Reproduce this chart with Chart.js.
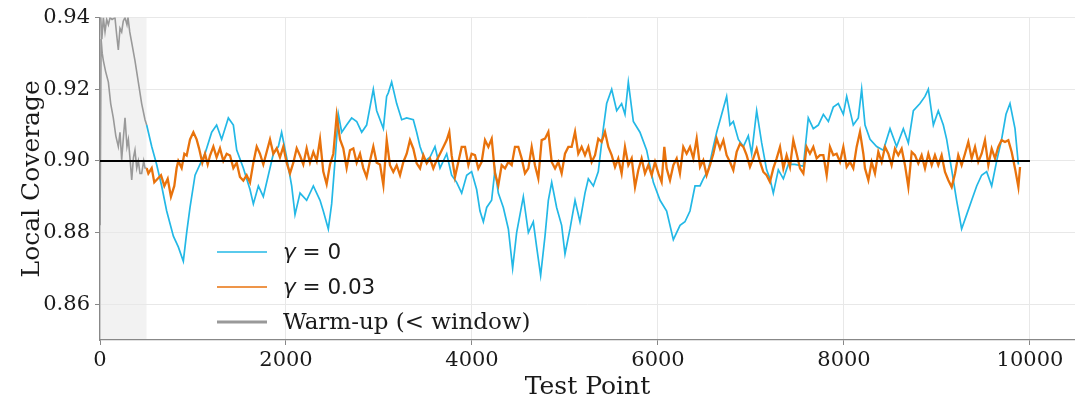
<!DOCTYPE html>
<html>
<head>
<meta charset="utf-8">
<script src="https://cdn.jsdelivr.net/npm/chart.js@4.4.1/dist/chart.umd.min.js"></script>
<style>
html,body{margin:0;padding:0;background:#fff;}
#wrap{width:1075px;height:403px;}
</style>
</head>
<body>
<div id="wrap"><canvas id="c" width="1075" height="403"></canvas></div>
<script>
// ---- data ----
const xTicks = [0, 2000, 4000, 6000, 8000, 10000];
const yTicks = [0.86, 0.88, 0.90, 0.92, 0.94];
const targetCoverage = 0.90;
const targetEnd = 10000;
const warmupEnd = 500;

// gamma = 0 (cyan)
const g0T = [502,556,609,663,717,789,842,896,932,968,1022,1075,1129,1201,1254,1308,1380,1434,1470,1541,1613,1649,1703,1756,1810,1864,1918,1953,2007,2061,2097,2151,2222,2294,2366,2401,2455,2491,2527,2563,2599,2652,2706,2760,2814,2867,2939,2975,3047,3082,3100,3136,3190,3244,3297,3369,3405,3441,3495,3548,3602,3656,3728,3781,3835,3889,3943,3996,4050,4086,4122,4158,4211,4247,4283,4337,4391,4437,4480,4552,4606,4659,4695,4738,4785,4821,4857,4910,4964,5000,5054,5108,5161,5215,5251,5305,5358,5412,5448,5502,5556,5609,5645,5681,5735,5806,5878,5950,6022,6093,6165,6237,6290,6344,6398,6452,6487,6541,6595,6631,6685,6738,6774,6810,6864,6918,6971,7007,7061,7115,7168,7204,7240,7294,7348,7401,7473,7563,7616,7670,7724,7778,7832,7885,7939,7993,8029,8100,8154,8190,8226,8280,8351,8423,8495,8566,8638,8692,8746,8817,8871,8907,8961,9014,9068,9104,9158,9211,9265,9319,9373,9427,9480,9534,9588,9642,9695,9742,9785,9839,9875];
const g0V = [0.910,0.904,0.899,0.893,0.886,0.879,0.876,0.872,0.880,0.887,0.896,0.899,0.902,0.908,0.910,0.906,0.912,0.910,0.903,0.898,0.892,0.888,0.893,0.890,0.896,0.902,0.904,0.908,0.901,0.893,0.885,0.891,0.889,0.893,0.889,0.886,0.881,0.888,0.900,0.913,0.908,0.910,0.912,0.911,0.908,0.910,0.920,0.914,0.909,0.918,0.919,0.922,0.916,0.9115,0.912,0.9115,0.908,0.904,0.900,0.901,0.904,0.898,0.902,0.896,0.894,0.891,0.896,0.897,0.892,0.886,0.883,0.887,0.889,0.8975,0.891,0.887,0.881,0.870,0.880,0.890,0.880,0.883,0.876,0.868,0.879,0.889,0.894,0.887,0.882,0.874,0.881,0.889,0.883,0.891,0.895,0.893,0.897,0.909,0.916,0.920,0.914,0.916,0.913,0.922,0.911,0.908,0.903,0.894,0.889,0.886,0.878,0.882,0.883,0.886,0.893,0.893,0.895,0.8975,0.904,0.908,0.913,0.918,0.910,0.911,0.906,0.904,0.907,0.902,0.914,0.905,0.8975,0.895,0.891,0.8975,0.895,0.899,0.899,0.8985,0.912,0.909,0.910,0.913,0.911,0.915,0.916,0.913,0.918,0.910,0.912,0.920,0.910,0.906,0.904,0.903,0.909,0.904,0.909,0.905,0.914,0.916,0.918,0.920,0.910,0.914,0.910,0.906,0.8975,0.889,0.881,0.885,0.889,0.893,0.896,0.897,0.893,0.900,0.906,0.913,0.916,0.909,0.899];

// gamma = 0.03 (orange)
const g03T = [502,520,556,584,620,656,692,728,763,799,824,842,878,907,932,968,1004,1039,1065,1100,1129,1158,1183,1219,1254,1290,1326,1362,1398,1434,1470,1505,1541,1577,1613,1649,1685,1720,1756,1792,1828,1864,1900,1935,1971,2007,2043,2079,2115,2150,2186,2222,2258,2294,2330,2366,2401,2437,2473,2509,2545,2581,2616,2652,2688,2724,2760,2796,2831,2867,2903,2939,2975,3011,
  3047,3083,3118,3154,3190,3226,3262,3298,3333,3369,3405,3441,3477,3513,3548,3584,3620,3656,3692,3728,3756,3781,3817,3853,3889,3925,3961,3996,4032,4068,4104,4140,4176,4212,4247,4283,4319,4355,4391,4427,4462,4498,4534,4570,4606,4642,4677,4713,4749,4785,4821,4857,4893,4928,4964,5000,5036,5072,5108,5143,5179,5215,5251,5287,5323,5358,5394,5430,5466,5502,5538,
  5573,5609,5645,5681,5717,5753,5788,5824,5860,5896,5932,5968,6004,6039,6068,6093,6129,6165,6201,6236,6272,6308,6344,6380,6416,6452,6487,6523,6559,6595,6631,6667,6703,6738,6774,6810,6846,6882,6918,6953,6989,7025,7061,7097,7133,7168,7204,7240,7276,7312,7348,7383,7419,7455,7491,7527,7563,7598,7634,7670,7706,7742,7778,7814,7849,7885,7921,7957,7993,8029,
  8065,8100,8136,8172,8208,8226,8262,8297,8333,8369,8405,8441,8477,8512,8548,8584,8620,8656,8692,8728,8763,8799,8835,8871,8907,8943,8978,9014,9050,9086,9122,9158,9194,9229,9265,9301,9337,9373,9409,9444,9480,9516,9552,9588,9624,9659,9695,9731,9767,9803,9839,9875,9893];
const g03V = [0.898,0.8965,0.898,0.894,0.895,0.896,0.893,0.895,0.890,0.893,0.898,0.900,0.898,0.902,0.9015,0.906,0.908,0.906,0.9035,0.8995,0.902,0.899,0.9015,0.904,0.901,0.9035,0.900,0.902,0.9015,0.898,0.8995,0.8955,0.8945,0.896,0.894,0.8995,0.904,0.902,0.899,0.9025,0.906,0.902,0.9035,0.901,0.904,0.8995,0.8965,0.8995,0.9035,0.9015,0.899,0.9035,0.8995,0.9025,0.900,0.906,0.897,0.8935,0.899,0.902,0.9127,0.906,0.9035,0.898,0.903,0.9035,0.8995,0.902,0.898,0.8955,0.900,0.904,0.8995,0.899,
  0.8932,0.9058,0.8988,0.8969,0.8988,0.8960,0.8997,0.9020,0.9058,0.9034,0.8993,0.8979,0.9016,0.8993,0.9007,0.8979,0.9002,0.9020,0.9039,0.9058,0.9081,0.9016,0.8955,0.8997,0.9039,0.9039,0.8988,0.9020,0.9016,0.8979,0.8997,0.9058,0.9039,0.9062,0.8965,0.8932,0.8988,0.8979,0.8997,0.8988,0.9039,0.9039,0.9007,0.8965,0.8979,0.9039,0.8988,0.8951,0.9058,0.9062,0.9081,0.8997,0.8979,0.8997,0.8965,0.9020,0.9039,0.9039,0.9081,0.9020,0.9039,0.9016,0.9039,0.8997,0.9016,0.9062,0.9053,0.9081,0.9039,0.9016,0.8983,
  0.9007,0.8965,0.9039,0.8988,0.9007,0.8927,0.8974,0.9007,0.8965,0.8988,0.8960,0.8997,0.8965,0.8941,0.9039,0.8979,0.8946,0.8988,0.9007,0.8965,0.9039,0.9020,0.9039,0.9007,0.9062,0.8983,0.9002,0.8960,0.8988,0.9020,0.9062,0.9034,0.9058,0.9016,0.8997,0.8974,0.9025,0.9048,0.9039,0.9016,0.8983,0.9007,0.9034,0.8997,0.8969,0.8960,0.8941,0.8979,0.9007,0.9039,0.8979,0.9016,0.8983,0.9058,0.9020,0.8979,0.8965,0.9039,0.9020,0.9039,0.9007,0.9016,0.9016,0.8960,0.9039,0.9016,0.9020,0.8997,0.9039,0.8983,
  0.8997,0.8979,0.9039,0.9081,0.9020,0.8979,0.8946,0.8997,0.8965,0.9025,0.8997,0.9039,0.9020,0.8988,0.9034,0.9016,0.9034,0.8988,0.8927,0.9025,0.9016,0.8993,0.9016,0.8979,0.9020,0.8988,0.9016,0.8988,0.9016,0.8969,0.8946,0.8927,0.8965,0.9016,0.8988,0.9020,0.9053,0.9007,0.9039,0.8997,0.9020,0.9058,0.8988,0.9034,0.9007,0.9039,0.9058,0.9053,0.9058,0.9025,0.8979,0.8927,0.8983];

// warm-up (< window), both methods
const warmAT = [1,8,20,36,54,72,90,108,130,161,180,197,215,233,250,269,290,301,320,341,376,412,448,484,502];
const warmAV = [0.950,0.940,0.934,0.940,0.936,0.9395,0.938,0.940,0.9395,0.940,0.935,0.931,0.937,0.936,0.939,0.940,0.938,0.940,0.936,0.933,0.928,0.922,0.916,0.9115,0.910];
const warmBT = [1,12,24,36,60,90,115,143,170,197,215,233,250,269,290,305,325,341,360,376,395,412,430,448,470,484,502];
const warmBV = [0.882,0.934,0.930,0.928,0.925,0.922,0.916,0.912,0.907,0.904,0.908,0.9003,0.906,0.912,0.904,0.906,0.900,0.8947,0.901,0.903,0.898,0.900,0.8965,0.8965,0.900,0.898,0.898];

// ---- build ----
const pts = (T, V) => T.map((t, i) => ({x: t, y: V[i]}));
const C_CYAN = '#23b8e6';
const C_ORANGE = '#e8720c';
const C_GRAY = '#999999';

const shadePlugin = {
  id: 'shade',
  beforeDraw(chart) {
    const {ctx, chartArea: a, scales: {x}} = chart;
    ctx.save();
    ctx.fillStyle = '#f2f2f2';
    const x0 = x.getPixelForValue(0), x1 = x.getPixelForValue(warmupEnd);
    ctx.fillRect(x0, a.top, x1 - x0, a.bottom - a.top);
    ctx.restore();
  }
};

const legendPlugin = {
  id: 'customLegend',
  afterDraw(chart) {
    const ctx = chart.ctx;
    ctx.save();
    const lx0 = 217, lx1 = 267, tx = 283;
    const rows = [
      {y: 252, color: C_CYAN, w: 1.6, parts: [['italic 21.5px "DejaVu Sans"', 'γ'], ['21.5px "DejaVu Sans"', ' = 0']]},
      {y: 287, color: C_ORANGE, w: 1.6, parts: [['italic 21.5px "DejaVu Sans"', 'γ'], ['21.5px "DejaVu Sans"', ' = 0.03']]},
      {y: 322, color: C_GRAY, w: 3, parts: [['23px "DejaVu Serif"', 'Warm-up (< window)']]}
    ];
    rows.forEach(r => {
      ctx.strokeStyle = r.color;
      ctx.lineWidth = r.w;
      ctx.beginPath();
      ctx.moveTo(lx0, r.y); ctx.lineTo(lx1, r.y);
      ctx.stroke();
      let x = tx;
      ctx.fillStyle = '#1a1a1a';
      ctx.textBaseline = 'middle';
      r.parts.forEach(([f, s]) => {
        ctx.font = f;
        ctx.fillText(s, x, r.y + 1);
        x += ctx.measureText(s).width;
      });
    });
    ctx.restore();
  }
};

new Chart(document.getElementById('c'), {
  type: 'line',
  data: {
    datasets: [
      {label: 'target', data: [{x: 0, y: targetCoverage}, {x: targetEnd, y: targetCoverage}], borderColor: '#000', borderWidth: 2, order: 0},
      {label: 'γ = 0.03', data: pts(g03T, g03V), borderColor: C_ORANGE, borderWidth: 2.3, order: 1},
      {label: 'γ = 0', data: pts(g0T, g0V), borderColor: C_CYAN, borderWidth: 1.7, order: 2},
      {label: 'Warm-up', data: pts(warmAT, warmAV), borderColor: C_GRAY, borderWidth: 1.6, order: 3},
      {label: 'Warm-up b', data: pts(warmBT, warmBV), borderColor: C_GRAY, borderWidth: 1.6, order: 3}
    ]
  },
  options: {
    responsive: false,
    animation: false,
    devicePixelRatio: 1,
    layout: {padding: {top: 17, right: 0, left: 0, bottom: 0}},
    elements: {point: {radius: 0}, line: {tension: 0, fill: false}},
    plugins: {legend: {display: false}, tooltip: {enabled: false}},
    scales: {
      x: {
        type: 'linear', min: 0, max: 10484,
        afterBuildTicks: s => { s.ticks = xTicks.map(v => ({value: v})); },
        afterFit: s => { s.height = 63; },
        ticks: {color: '#1a1a1a', font: {family: '"DejaVu Serif"', size: 21}, padding: 3, maxRotation: 0, callback: v => String(v)},
        grid: {color: '#e8e8e8', lineWidth: 1, tickColor: '#888', tickLength: 5},
        border: {color: '#888', width: 1.3},
        title: {display: true, text: 'Test Point', color: '#1a1a1a', font: {family: '"DejaVu Serif"', size: 25}, padding: {top: 0, bottom: 1}}
      },
      y: {
        type: 'linear', min: 0.85, max: 0.94,
        afterBuildTicks: s => { s.ticks = yTicks.map(v => ({value: v})); },
        afterFit: s => { s.width = 100; },
        ticks: {color: '#1a1a1a', font: {family: '"DejaVu Serif"', size: 21}, padding: 5, callback: v => v.toFixed(2)},
        grid: {color: '#e8e8e8', lineWidth: 1, tickColor: '#888', tickLength: 5},
        border: {color: '#888', width: 1.3},
        title: {display: true, text: 'Local Coverage', color: '#1a1a1a', font: {family: '"DejaVu Serif"', size: 25}, padding: {top: 17, bottom: 0}}
      }
    }
  },
  plugins: [shadePlugin, legendPlugin]
});
</script>
</body>
</html>
